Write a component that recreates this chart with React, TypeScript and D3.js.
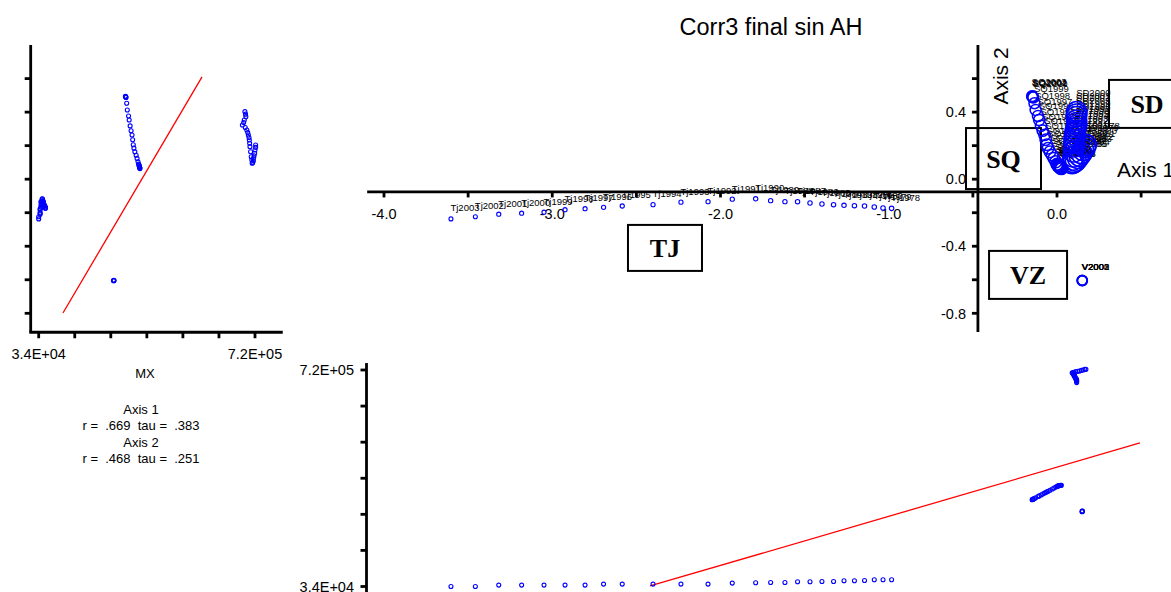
import React from "react";
import * as d3 from "d3";

// ordination scores (Axis 1, Axis 2) and overlay variable MX
const tjYears = [2003, 2002, 2001, 2000, 1999, 1998, 1997, 1996, 1995, 1994, 1993, 1992, 1991, 1990, 1989, 1988, 1987, 1986, 1985, 1984, 1983, 1982, 1981, 1980, 1979, 1978];
const tjAxis1 = [-3.602, -3.457, -3.318, -3.182, -3.049, -2.924, -2.805, -2.695, -2.584, -2.401, -2.235, -2.074, -1.930, -1.791, -1.702, -1.617, -1.542, -1.468, -1.397, -1.328, -1.266, -1.204, -1.144, -1.086, -1.034, -0.983];
const tjAxis2 = [-0.237, -0.224, -0.209, -0.203, -0.197, -0.182, -0.176, -0.168, -0.160, -0.152, -0.137, -0.134, -0.119, -0.117, -0.128, -0.134, -0.134, -0.142, -0.148, -0.152, -0.156, -0.158, -0.160, -0.166, -0.172, -0.174];
const tjMX = [34000, 34000, 38500, 38500, 38500, 38500, 38500, 41600, 41600, 41600, 41600, 41600, 44800, 45800, 46700, 46700, 49000, 49000, 49900, 49900, 52200, 52200, 53100, 55300, 55300, 55300];

const sqYears = [2003, 2002, 2001, 2000, 1999, 1998, 1997, 1996, 1995, 1994, 1993, 1992, 1991, 1990, 1989, 1988, 1987, 1986, 1985, 1984, 1983, 1982, 1981, 1980, 1979, 1978];
const sqAxis1 = [-0.148, -0.145, -0.144, -0.141, -0.134, -0.127, -0.113, -0.106, -0.095, -0.085, -0.074, -0.067, -0.060, -0.053, -0.042, -0.028, -0.018, -0.007, 0.000, 0.004, 0.007, 0.010, 0.014, 0.018, 0.022, 0.026];
const sqAxis2 = [0.495, 0.493, 0.490, 0.487, 0.453, 0.413, 0.377, 0.353, 0.318, 0.289, 0.264, 0.235, 0.205, 0.185, 0.163, 0.143, 0.124, 0.104, 0.090, 0.085, 0.080, 0.076, 0.072, 0.069, 0.066, 0.063];
const sqMX = [309000, 310000, 310000, 311000, 313000, 315000, 319000, 321000, 324000, 327000, 330000, 332000, 334000, 336000, 339000, 343000, 346000, 349000, 351000, 352000, 353000, 353000, 354000, 354000, 355000, 355000];

const sdYears = [2000, 2001, 2002, 2003, 1999, 1998, 1997, 1996, 1995, 1994, 1993, 1992, 1991, 1990, 1989, 1988, 1987, 1986, 1985, 1984, 1983, 1982, 1981, 1980, 1979, 1978];
const sdAxis1 = [0.117, 0.116, 0.115, 0.116, 0.117, 0.117, 0.114, 0.110, 0.108, 0.106, 0.104, 0.103, 0.102, 0.101, 0.099, 0.097, 0.094, 0.090, 0.100, 0.112, 0.124, 0.134, 0.145, 0.155, 0.165, 0.172];
const sdAxis2 = [0.403, 0.388, 0.373, 0.353, 0.338, 0.323, 0.308, 0.293, 0.278, 0.264, 0.249, 0.234, 0.214, 0.194, 0.164, 0.134, 0.115, 0.095, 0.100, 0.110, 0.126, 0.140, 0.155, 0.174, 0.190, 0.204];
const sdMX = [688000, 690000, 691000, 686000, 684000, 680000, 689000, 694000, 697000, 699000, 701000, 702000, 703000, 704000, 706000, 708000, 710000, 711000, 713000, 715000, 716000, 717000, 719000, 720000, 722000, 722000];

const vzYears = [2003, 2002, 2001, 2000];
const vzAxis1 = [0.149, 0.150, 0.151, 0.150];
const vzAxis2 = [-0.604, -0.606, -0.605, -0.603];
const vzMX = [271000, 272000, 273000, 272000];

// group label boxes, centres in score units
const groupNames = ["TJ", "SQ", "SD", "VZ"];
const groupAxis1 = [-2.33, -0.318, 0.535, -0.172];
const groupAxis2 = [-0.41, 0.123, 0.449, -0.571];
const groupBoxSize = [[74, 46], [75, 61], [76, 48], [78, 48]];

// regression lines (two end points each)
const leftFitMX = [111000, 552000];
const leftFitAxis2 = [-0.798, 0.61];
const bottomFitAxis1 = [-2.419, 0.493];
const bottomFitMX = [35600, 488700];

const xTickVals = [-4, -3.5, -3, -2.5, -2, -1.5, -1, -0.5, 0, 0.5];
const xTickLabels = [-4, -3, -2, -1, 0];
const yTickVals = [0.6, 0.4, 0.2, 0, -0.2, -0.4, -0.6, -0.8];
const yTickLabels = [0.4, 0, -0.4, -0.8];
const mxTickVals = [34000, 148333, 262667, 377000, 491333, 605667, 720000];
const mxTickLabels = ["3.4E+04", "7.2E+05"];

const statLines = ["Axis 1", "r =  .669  tau =  .383", "Axis 2", "r =  .468  tau =  .251"];

type Pt = { label: string; a1: number; a2: number; mx: number };

function build(prefix: string, years: number[], a1: number[], a2: number[], mx: number[]): Pt[] {
  return years.map((y, i) => ({ label: prefix + y, a1: a1[i], a2: a2[i], mx: mx[i] }));
}

const points: Pt[] = [
  ...build("Tj", tjYears, tjAxis1, tjAxis2, tjMX),
  ...build("SQ", sqYears, sqAxis1, sqAxis2, sqMX),
  ...build("SD", sdYears, sdAxis1, sdAxis2, sdMX),
  ...build("V", vzYears, vzAxis1, vzAxis2, vzMX),
];

const FONT = "'Liberation Sans', Arial, sans-serif";
const BLUE = "#0000ff";

export default function App() {
  const xMain = d3.scaleLinear().domain([-4, 0]).range([384, 1057]);
  const yMain = d3.scaleLinear().domain([-0.8, 0.6]).range([313.3, 78.6]);
  const xLeft = d3.scaleLinear().domain([34000, 720000]).range([38.7, 255]);
  const yBottom = d3.scaleLinear().domain([34000, 720000]).range([586.5, 370]);
  const rScale = d3.scaleLinear().domain([34000, 720000]).range([2, 10.5]);

  const fmt = (v: number) => v.toFixed(1);

  // main axes cross
  const axY = yMain(-0.076);
  const axX = xMain(-0.47);

  // left panel frame
  const lAxX = xLeft(8600);
  const lAxY = yMain(-0.913);

  // bottom panel frame
  const bAxX = xMain(-4.104);

  const line = d3.line<[number, number]>();

  return (
    <svg width={1171} height={592} style={{ position: "absolute", left: 0, top: 0, background: "#fff" }} fontFamily={FONT}>
      <rect width={1171} height={592} fill="#fff" />
      <text x={771} y={35} fontSize={23.5} textAnchor="middle">{"Corr3 final sin AH"}</text>

      {/* ---------- main ordination ---------- */}
      <line x1={xMain(-4.1)} x2={1171} y1={axY} y2={axY} stroke="#000" strokeWidth={2.8} />
      {xTickVals.map((v) => (
        <line key={"xt" + v} x1={xMain(v)} x2={xMain(v)} y1={axY} y2={axY + 5.5} stroke="#000" strokeWidth={2.8} />
      ))}
      {xTickLabels.map((v) => (
        <text key={"xl" + v} x={xMain(v)} y={218.5} fontSize={14.5} textAnchor="middle">{fmt(v)}</text>
      ))}
      <line x1={axX} x2={axX} y1={yMain(0.8)} y2={yMain(-0.912)} stroke="#000" strokeWidth={2.8} />
      {yTickVals.map((v) => (
        <line key={"yt" + v} x1={axX - 6} x2={axX} y1={yMain(v)} y2={yMain(v)} stroke="#000" strokeWidth={2.8} />
      ))}
      {yTickLabels.map((v) => (
        <text key={"yl" + v} x={966} y={yMain(v)} dy="0.36em" fontSize={14.5} textAnchor="end">{fmt(v)}</text>
      ))}
      <text x={1117} y={177} fontSize={21}>Axis 1</text>
      <text transform={`translate(1008,76) rotate(-90)`} fontSize={21} textAnchor="middle">Axis 2</text>

      {groupNames.map((g, i) => {
        const cx = xMain(groupAxis1[i]);
        const cy = yMain(groupAxis2[i]);
        const [w, h] = groupBoxSize[i];
        return (
          <g key={g}>
            <rect x={cx - w / 2} y={cy - h / 2} width={w} height={h} fill="none" stroke="#000" strokeWidth={2} />
            <text x={cx} y={cy + 9} fontSize={26} fontWeight="bold" fontFamily="'Liberation Serif', 'Times New Roman', serif" textAnchor="middle">{g}</text>
          </g>
        );
      })}

      {points.map((p, i) => (
        <text key={"lb" + i} x={xMain(p.a1) - 0.5} y={yMain(p.a2) - rScale(p.mx) - 5.5} fontSize={9.5} fill="#000">{p.label}</text>
      ))}
      {points.map((p, i) => (
        <circle key={"pt" + i} cx={xMain(p.a1)} cy={yMain(p.a2)} r={rScale(p.mx)} fill="none" stroke={BLUE} strokeWidth={p.mx < 60000 ? 1.1 : 1.5} />
      ))}

      {/* ---------- left panel: Axis 2 vs MX ---------- */}
      <line x1={lAxX} x2={lAxX} y1={yMain(0.8)} y2={lAxY} stroke="#000" strokeWidth={2.8} />
      {yTickVals.map((v) => (
        <line key={"lyt" + v} x1={lAxX - 6} x2={lAxX} y1={yMain(v)} y2={yMain(v)} stroke="#000" strokeWidth={2.8} />
      ))}
      <line x1={lAxX - 1.4} x2={xLeft(808000)} y1={lAxY} y2={lAxY} stroke="#000" strokeWidth={2.8} />
      {mxTickVals.map((v) => (
        <line key={"lxt" + v} x1={xLeft(v)} x2={xLeft(v)} y1={lAxY} y2={lAxY + 6} stroke="#000" strokeWidth={2.8} />
      ))}
      {[mxTickVals[0], mxTickVals[6]].map((v, i) => (
        <text key={"lxl" + i} x={xLeft(v)} y={359} fontSize={14.5} textAnchor="middle">{mxTickLabels[i]}</text>
      ))}
      <text x={145} y={378} fontSize={13} textAnchor="middle">MX</text>
      {statLines.map((s, i) => (
        <text key={"st" + i} x={141} y={414 + i * 16.3} fontSize={13} textAnchor="middle" style={{ whiteSpace: "pre" }}>{s}</text>
      ))}
      <path
        d={line(leftFitMX.map((m, i) => [xLeft(m), yMain(leftFitAxis2[i])] as [number, number])) || ""}
        stroke="#ff0000" strokeWidth={1.3} fill="none"
      />
      {points.map((p, i) => (
        <circle key={"lp" + i} cx={xLeft(p.mx)} cy={yMain(p.a2)} r={2} fill="none" stroke={BLUE} strokeWidth={1.1} />
      ))}

      {/* ---------- bottom panel: MX vs Axis 1 ---------- */}
      <line x1={bAxX} x2={bAxX} y1={yBottom(742000)} y2={600} stroke="#000" strokeWidth={2.8} />
      {mxTickVals.map((v) => (
        <line key={"byt" + v} x1={bAxX - 6} x2={bAxX} y1={yBottom(v)} y2={yBottom(v)} stroke="#000" strokeWidth={2.8} />
      ))}
      {[mxTickVals[6], mxTickVals[0]].map((v, i) => (
        <text key={"byl" + i} x={354} y={yBottom(v)} dy="0.36em" fontSize={14.5} textAnchor="end">{mxTickLabels[1 - i]}</text>
      ))}
      <path
        d={line(bottomFitAxis1.map((a, i) => [xMain(a), yBottom(bottomFitMX[i])] as [number, number])) || ""}
        stroke="#ff0000" strokeWidth={1.3} fill="none"
      />
      {points.map((p, i) => (
        <circle key={"bp" + i} cx={xMain(p.a1)} cy={yBottom(p.mx)} r={2} fill="none" stroke={BLUE} strokeWidth={1.1} />
      ))}
    </svg>
  );
}
